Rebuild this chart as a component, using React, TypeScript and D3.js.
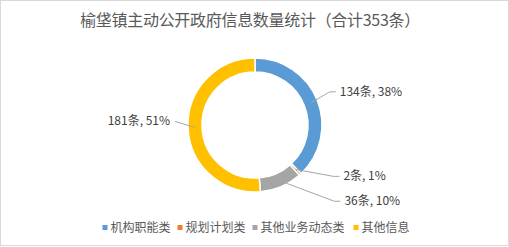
import { useEffect, useRef } from "react";
import * as d3 from "d3";

const title = "榆垡镇主动公开政府信息数量统计（合计353条）";
const categories = ["机构职能类", "规划计划类", "其他业务动态类", "其他信息"];
const counts = [134, 2, 36, 181];
const percents = ["38%", "1%", "10%", "51%"];
const colors = ["#5B9BD5", "#ED7D31", "#A5A5A5", "#FFC000"];
// label offsets from the ring point (dx, dy) and text anchor
const labelOffsets: [number, number, string][] = [
  [29, -11, "start"],
  [48, 7, "start"],
  [66, 21, "start"],
  [-23, -6, "end"],
];

const W = 509;
const H = 247;

export default function App() {
  const svgRef = useRef<SVGSVGElement>(null);

  useEffect(() => {
    const svg = d3.select(svgRef.current);
    svg.selectAll("*").remove();
    const font = "'Noto Sans CJK SC', 'Microsoft YaHei', sans-serif";

    svg
      .append("rect")
      .attr("x", 0.5)
      .attr("y", 0.5)
      .attr("width", W - 1)
      .attr("height", H - 2)
      .attr("fill", "#fff")
      .attr("stroke", "#d9d9d9");

    svg
      .append("text")
      .attr("x", 250)
      .attr("y", 26)
      .attr("text-anchor", "middle")
      .attr("font-family", font)
      .attr("font-size", 16)
      .attr("letter-spacing", -0.3)
      .attr("fill", "#595959")
      .text(title);

    const cx = 255;
    const cy = 125;
    const outerR = 67;
    const innerR = 53;

    const pie = d3.pie<number>().sort(null).value((d) => d);
    const arcs = pie(counts);
    const arc = d3.arc<d3.PieArcDatum<number>>().innerRadius(innerR).outerRadius(outerR);

    const g = svg.append("g").attr("transform", `translate(${cx},${cy})`);
    g.selectAll("path")
      .data(arcs)
      .join("path")
      .attr("d", arc)
      .attr("fill", (_, i) => colors[i])
      .attr("stroke", "#fff")
      .attr("stroke-width", 1.5);

    const midR = (innerR + outerR) / 2;
    arcs.forEach((a, i) => {
      const ang = (a.startAngle + a.endAngle) / 2;
      const px = midR * Math.sin(ang);
      const py = -midR * Math.cos(ang);
      const [dx, dy, anchor] = labelOffsets[i];
      const lx = px + dx;
      const ly = py + dy;
      const elbow = anchor === "start" ? lx - 10 : lx + 3;
      const endX = anchor === "start" ? lx - 4 : lx + 3;
      g.append("polyline")
        .attr("points", `${px},${py} ${elbow},${ly} ${endX},${ly}`)
        .attr("fill", "none")
        .attr("stroke", "#a6a6a6")
        .attr("stroke-width", 1);
      g.append("text")
        .attr("x", anchor === "start" ? lx : lx - 2)
        .attr("y", ly + 4)
        .attr("text-anchor", anchor)
        .attr("font-family", font)
        .attr("font-size", 12)
        .attr("fill", "#404040")
        .text(`${counts[i]}条, ${percents[i]}`);
    });

    // legend
    const legend = svg.append("g");
    const itemW = categories.map((c) => c.length * 13 + 10);
    const total = d3.sum(itemW);
    let x = W / 2 - total / 2 + 4.5;
    categories.forEach((c, i) => {
      legend
        .append("rect")
        .attr("x", x)
        .attr("y", 225)
        .attr("width", 5)
        .attr("height", 5)
        .attr("fill", colors[i]);
      legend
        .append("text")
        .attr("x", x + 8)
        .attr("y", 232)
        .attr("font-family", font)
        .attr("font-size", 12)
        .attr("fill", "#595959")
        .text(c);
      x += itemW[i];
    });
  }, []);

  return (
    <svg
      ref={svgRef}
      width={W}
      height={H}
      style={{ position: "absolute", left: 0, top: 0 }}
    />
  );
}
